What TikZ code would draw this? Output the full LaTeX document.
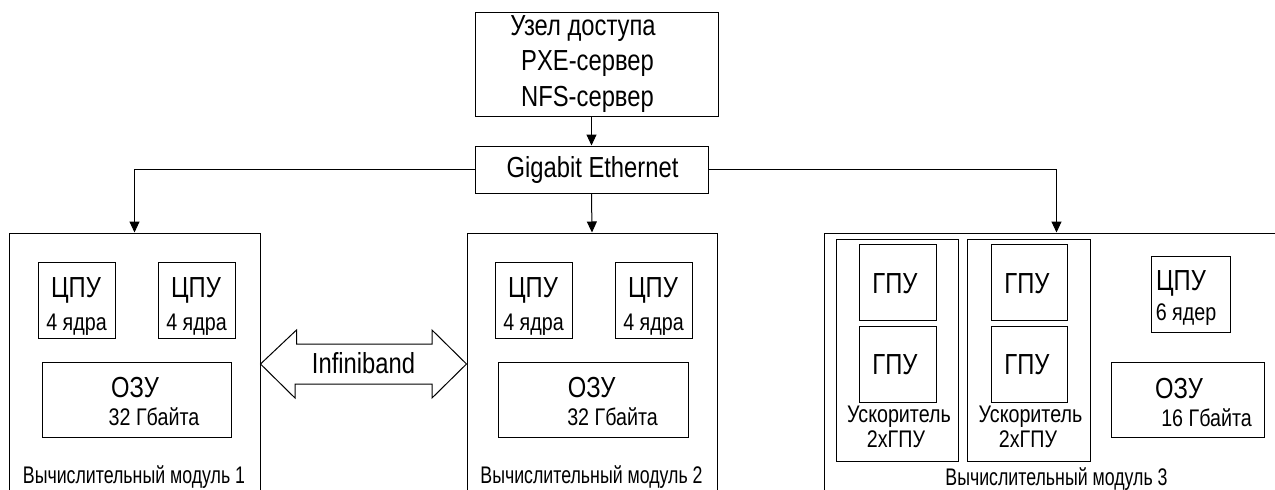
\documentclass[tikz,border=0pt]{standalone}
\usepackage{fontspec}
\setmainfont{Liberation Sans}[FakeStretch=0.82]
\newfontfamily\condensedfont{Liberation Sans}[FakeStretch=0.74]
\usetikzlibrary{arrows.meta}
\begin{document}
\begin{tikzpicture}[x=1pt,y=-1pt,
  box/.style={draw, line width=1pt, inner sep=0pt, rectangle},
  big/.style={inner sep=0pt, anchor=base, font=\fontsize{29}{35}\selectfont},
  small/.style={inner sep=0pt, anchor=base, font=\fontsize{24}{29}\selectfont},
  modlabel/.style={inner sep=0pt, anchor=base, font=\condensedfont\fontsize{24}{29}\selectfont},
  link/.style={line width=1pt, -{Triangle[length=11pt,width=10pt]}}]
\useasboundingbox (0,0) rectangle (1275,490);
\clip (0,0) rectangle (1275,490);

% access node and network
\node[box, minimum width=243pt, minimum height=104pt] (acc) at (596.5,64) {};
\node[big] (acct1) at (583,35) {Узел доступа};
\node[big] (acct2) at (587.5,70.5) {PXE-сервер};
\node[big] (acct3) at (587.5,106) {NFS-сервер};
\node[box, minimum width=233pt, minimum height=47pt] (geth) at (591.5,169.5) {};
\node[big] (getht) at (592.5,177) {Gigabit Ethernet};

% compute modules (bottom edges run past the lower border)
\node[box, minimum width=251pt, minimum height=280pt] (m1) at (134.5,373) {};
\node[box, minimum width=250pt, minimum height=280pt] (m2) at (592,373) {};
\node[box, minimum width=465pt, minimum height=280pt] (m3) at (1056.5,373) {};

% connectors
\draw[link] (acc.south -| geth.north) -- (geth.north);
\draw[link] (geth.west) -| (m1.north);
\draw[link] (geth.south) -- (m2.north);
\draw[link] (geth.east) -| (m3.north);

% module 1
\node[box, minimum width=77pt, minimum height=76pt] (c11) at (76.5,300) {};
\node[big] (c11a) at (76,297) {ЦПУ};
\node[small] (c11b) at (76.5,330) {4 ядра};
\node[box, minimum width=77pt, minimum height=76pt] (c12) at (196.5,300) {};
\node[big] (c12a) at (196,297) {ЦПУ};
\node[small] (c12b) at (196.5,330) {4 ядра};
\node[box, minimum width=189pt, minimum height=75pt] (r1) at (136.5,399.5) {};
\node[big] (r1a) at (135,397) {ОЗУ};
\node[small] (r1b) at (154,425) {32 Гбайта};
\node[modlabel] (m1t) at (134,483.5) {Вычислительный модуль 1};

% module 2
\node[box, minimum width=77pt, minimum height=76pt] (c21) at (533.5,300) {};
\node[big] (c21a) at (533,297) {ЦПУ};
\node[small] (c21b) at (533.5,330) {4 ядра};
\node[box, minimum width=77pt, minimum height=76pt] (c22) at (653.5,300) {};
\node[big] (c22a) at (653,297) {ЦПУ};
\node[small] (c22b) at (653.5,330) {4 ядра};
\node[box, minimum width=190pt, minimum height=75pt] (r2) at (593,399.5) {};
\node[big] (r2a) at (591.7,397) {ОЗУ};
\node[small] (r2b) at (612.5,425) {32 Гбайта};
\node[modlabel] (m2t) at (591.5,483.5) {Вычислительный модуль 2};

% Infiniband link between modules 1 and 2
\coordinate (ibl) at (m1.east |- 0,364);
\coordinate (ibr) at (m2.west |- 0,364);
\draw[line width=1pt, line join=miter]
  (ibl) -- ++(36,-34) -- ++(0,14) -- (432,344) -- (432,330) -- (ibr)
  -- (432,398) -- (432,384) -- (295,384) -- (295,398) -- cycle;
\node[big] (ib) at (363.5,373.5) {Infiniband};

% module 3
\node[box, minimum width=122pt, minimum height=222pt] (a1) at (897,350) {};
\node[box, minimum width=77pt, minimum height=76pt] (g11) at (897.5,282) {};
\node[big] (g11t) at (895,293) {ГПУ};
\node[box, minimum width=77pt, minimum height=76pt] (g12) at (897.5,364) {};
\node[big] (g12t) at (895,374) {ГПУ};
\node[small] (a1a) at (899,422) {Ускоритель};
\node[small] (a1b) at (896,447) {2хГПУ};

\node[box, minimum width=123pt, minimum height=222pt] (a2) at (1028.5,350) {};
\node[box, minimum width=76pt, minimum height=76pt] (g21) at (1029,282) {};
\node[big] (g21t) at (1027,293) {ГПУ};
\node[box, minimum width=76pt, minimum height=76pt] (g22) at (1029,364) {};
\node[big] (g22t) at (1027,374) {ГПУ};
\node[small] (a2a) at (1030.5,422) {Ускоритель};
\node[small] (a2b) at (1028,447) {2хГПУ};

\node[box, minimum width=79pt, minimum height=76pt] (c3) at (1190.5,294) {};
\node[big] (c3a) at (1181,290) {ЦПУ};
\node[small] (c3b) at (1186,320) {6 ядер};
\node[box, minimum width=153pt, minimum height=75pt] (r3) at (1187.5,399.5) {};
\node[big] (r3a) at (1179,398.5) {ОЗУ};
\node[small] (r3b) at (1206.5,426) {16 Гбайта};
\node[modlabel] (m3t) at (1056.5,485) {Вычислительный модуль 3};
\end{tikzpicture}
\end{document}
